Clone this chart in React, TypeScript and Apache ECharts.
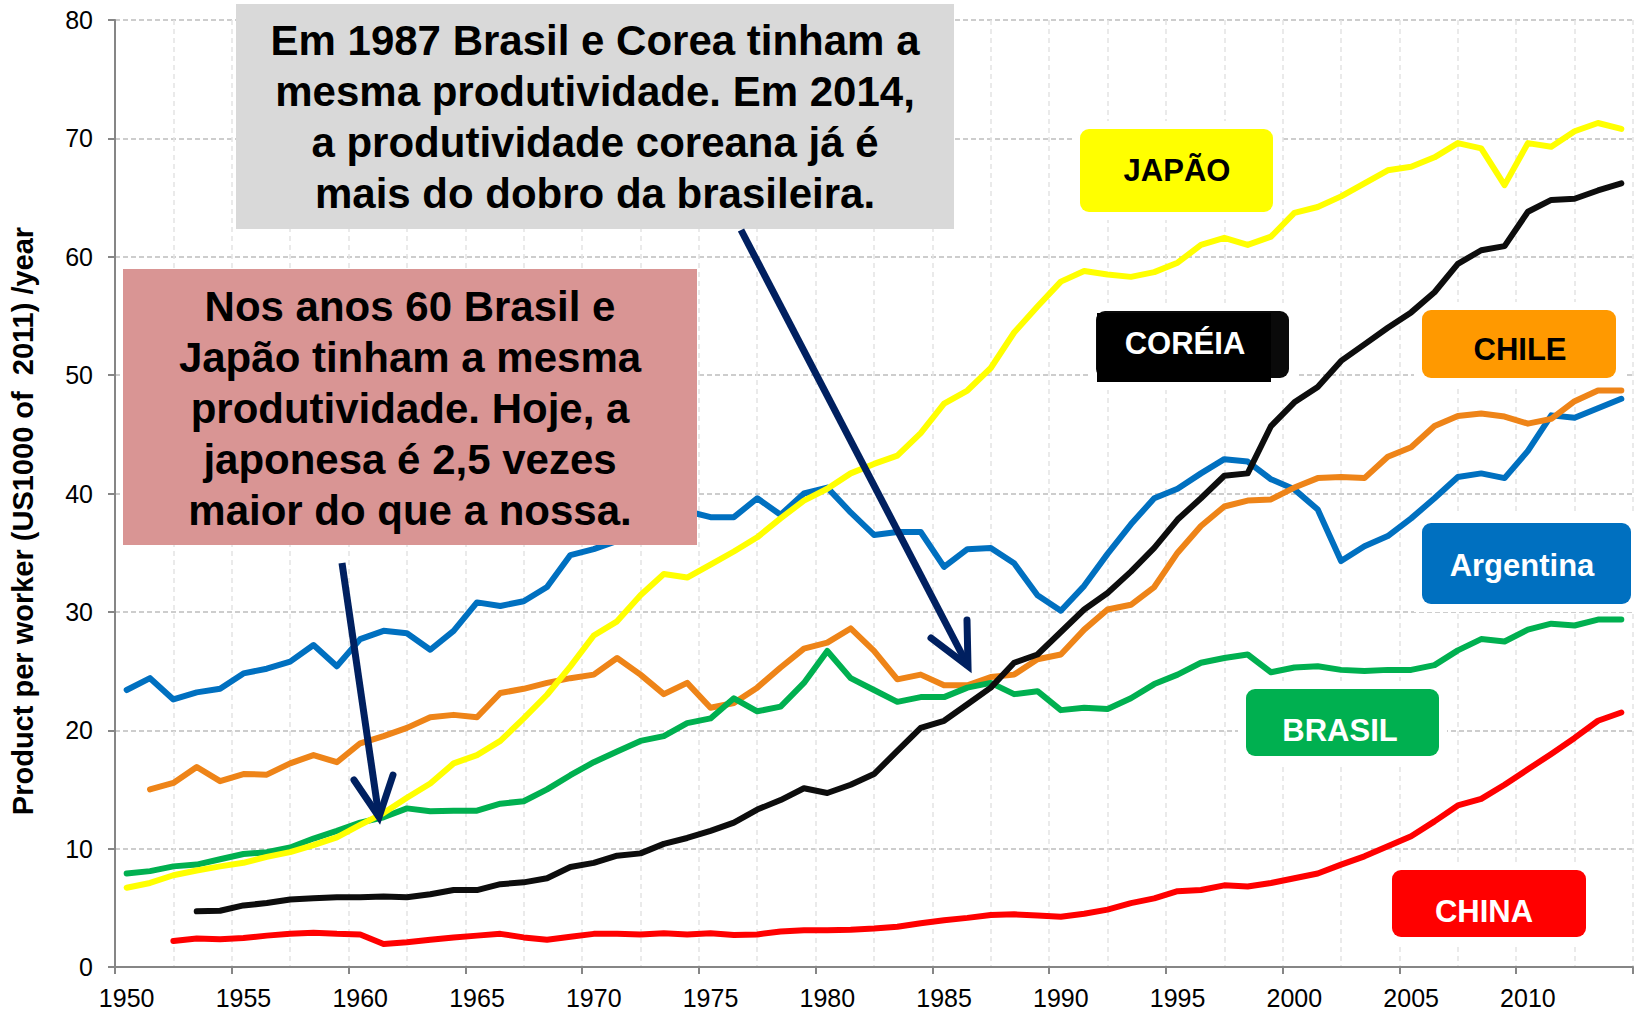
import React, { useEffect, useRef } from "react";
import * as echarts from "echarts";

const years = [
  "1950","1951","1952","1953","1954","1955","1956","1957","1958","1959",
  "1960","1961","1962","1963","1964","1965","1966","1967","1968","1969",
  "1970","1971","1972","1973","1974","1975","1976","1977","1978","1979",
  "1980","1981","1982","1983","1984","1985","1986","1987","1988","1989",
  "1990","1991","1992","1993","1994","1995","1996","1997","1998","1999",
  "2000","2001","2002","2003","2004","2005","2006","2007","2008","2009",
  "2010","2011","2012","2013","2014",
];

const argentina = [
  23.4, 24.4, 22.6, 23.2, 23.5, 24.8, 25.2, 25.8, 27.2, 25.4,
  27.7, 28.4, 28.2, 26.8, 28.4, 30.8, 30.5, 30.9, 32.1, 34.8,
  35.3, 36.0, 37.0, 38.7, 38.5, 38.0, 38.0, 39.6, 38.2, 40.0,
  40.5, 38.4, 36.5, 36.75, 36.75, 33.8, 35.3, 35.4, 34.1, 31.4,
  30.1, 32.2, 34.9, 37.4, 39.6, 40.4, 41.7, 42.9, 42.7, 41.2,
  40.35, 38.65, 34.3, 35.55, 36.4, 37.9, 39.6, 41.4, 41.7, 41.3,
  43.6, 46.6, 46.4, 47.2, 48.0,
];

const chile = [
  null, 15.0, 15.55, 16.9, 15.7, 16.3, 16.25, 17.2, 17.9, 17.3,
  18.9, 19.5, 20.2, 21.1, 21.3, 21.1, 23.15, 23.5, 24.0, 24.4,
  24.7, 26.1, 24.7, 23.05, 24.0, 21.9, 22.3, 23.6, 25.3, 26.9,
  27.4, 28.6, 26.7, 24.3, 24.7, 23.8, 23.8, 24.5, 24.7, 26.0,
  26.4, 28.5, 30.2, 30.6, 32.1, 35.0, 37.25, 38.9, 39.4, 39.5,
  40.5, 41.3, 41.4, 41.3, 43.1, 43.9, 45.7, 46.55, 46.75, 46.5,
  45.9, 46.3, 47.8, 48.7, 48.7,
];

const brasil = [
  7.9, 8.1, 8.5, 8.65, 9.1, 9.55, 9.7, 10.1, 10.85, 11.5,
  12.2, 12.65, 13.4, 13.15, 13.2, 13.2, 13.8, 14.0, 15.0, 16.2,
  17.3, 18.2, 19.1, 19.5, 20.6, 21.0, 22.7, 21.6, 22.0, 24.0,
  26.7, 24.4, 23.4, 22.4, 22.8, 22.8, 23.6, 24.0, 23.05, 23.3,
  21.7, 21.9, 21.8, 22.7, 23.9, 24.7, 25.7, 26.1, 26.4, 24.9,
  25.3, 25.4, 25.1, 25.0, 25.1, 25.1, 25.5, 26.75, 27.7, 27.5,
  28.5, 29.0, 28.85, 29.35, 29.35,
];

const china = [
  null, null, 2.2, 2.4, 2.35, 2.45, 2.65, 2.8, 2.9, 2.8,
  2.75, 1.95, 2.1, 2.3, 2.5, 2.65, 2.8, 2.5, 2.3, 2.55,
  2.8, 2.8, 2.75, 2.85, 2.75, 2.85, 2.7, 2.75, 3.0, 3.1,
  3.1, 3.15, 3.25, 3.4, 3.7, 3.95, 4.15, 4.4, 4.45, 4.35,
  4.25, 4.5, 4.85, 5.4, 5.8, 6.4, 6.5, 6.9, 6.8, 7.1,
  7.5, 7.9, 8.65, 9.35, 10.2, 11.05, 12.3, 13.65, 14.2, 15.4,
  16.7, 18.0, 19.35, 20.8, 21.5,
];

const japao = [
  6.7, 7.1, 7.75, 8.15, 8.5, 8.8, 9.3, 9.7, 10.3, 10.95,
  12.0, 13.0, 14.3, 15.5, 17.2, 17.9, 19.1, 21.0, 23.0, 25.4,
  28.0, 29.2, 31.4, 33.2, 32.9, 34.0, 35.1, 36.3, 37.9, 39.4,
  40.4, 41.7, 42.5, 43.2, 45.1, 47.6, 48.7, 50.6, 53.6, 55.8,
  57.9, 58.8, 58.5, 58.3, 58.7, 59.5, 61.0, 61.6, 61.0, 61.7,
  63.7, 64.2, 65.1, 66.2, 67.3, 67.6, 68.4, 69.6, 69.15, 66.05,
  69.6, 69.3, 70.6, 71.3, 70.8,
];

const coreia = [
  null, null, null, 4.7, 4.75, 5.2, 5.4, 5.7, 5.8, 5.9,
  5.9, 5.95, 5.9, 6.15, 6.5, 6.5, 7.0, 7.15, 7.5, 8.45,
  8.8, 9.4, 9.6, 10.4, 10.9, 11.5, 12.2, 13.3, 14.1, 15.1,
  14.7, 15.4, 16.3, 18.25, 20.2, 20.8, 22.2, 23.6, 25.7, 26.4,
  28.3, 30.2, 31.6, 33.4, 35.4, 37.8, 39.6, 41.5, 41.7, 45.7,
  47.7, 49.0, 51.2, 52.6, 54.0, 55.3, 57.0, 59.4, 60.55, 60.9,
  63.8, 64.8, 64.9, 65.6, 66.2,
];

const yTitle = "Product per worker (US1000 of  2011) /year";
const greyNote = "Em 1987 Brasil e Corea tinham a\nmesma produtividade. Em 2014,\na produtividade coreana já é\nmais do dobro da brasileira.";
const pinkNote = "Nos anos 60 Brasil e\nJapão tinham a mesma\nprodutividade. Hoje, a\njaponesa é 2,5 vezes\nmaior do que a nossa.";

const FONT = '"Liberation Sans", Arial, Helvetica, sans-serif';
const NAVY = "#002060";

function labelBox(x: number, y: number, w: number, h: number, fill: string, text: string, tx: number, ty: number, color: string) {
  return [
    { type: "rect", z: 1, shape: { x: x - 8, y: y - 8, width: w + 16, height: h + 16 }, style: { fill: "#ffffff" } },
    { type: "rect", z: 101, shape: { x, y, width: w, height: h, r: 9 }, style: { fill } },
    {
      type: "text", z: 102, x: tx, y: ty,
      style: { text, font: `bold 31px ${FONT}`, fill: color, textAlign: "center", textVerticalAlign: "middle" },
    },
  ];
}

function arrow(sx: number, sy: number, tx: number, ty: number, lx: number, ly: number, rx: number, ry: number) {
  return [
    { type: "line", z: 110, shape: { x1: sx, y1: sy, x2: tx, y2: ty }, style: { stroke: NAVY, lineWidth: 7, lineCap: "butt" } },
    {
      type: "polyline", z: 110,
      shape: { points: [[lx, ly], [tx, ty], [rx, ry]] },
      style: { stroke: NAVY, lineWidth: 7, lineCap: "round", lineJoin: "miter", fill: null },
    },
  ];
}

export default function App() {
  const ref = useRef<HTMLDivElement>(null);

  useEffect(() => {
    if (!ref.current) return;
    const chart = echarts.init(ref.current, null, { renderer: "svg" });

    const lineSeries = (name: string, data: (number | null)[], color: string) => ({
      name,
      type: "line",
      data,
      showSymbol: false,
      symbol: "none",
      connectNulls: false,
      lineStyle: { color, width: 6, cap: "round", join: "round" },
      itemStyle: { color },
      z: 3,
    });

    const option: any = {
      animation: false,
      backgroundColor: "#ffffff",
      textStyle: { fontFamily: FONT },
      grid: { left: 115, right: 2, top: 20, bottom: 45, containLabel: false },
      xAxis: [
        {
          type: "category",
          data: years,
          boundaryGap: true,
          axisLine: { show: true, lineStyle: { color: "#868686", width: 2 } },
          axisTick: {
            show: true,
            length: 7,
            alignWithLabel: false,
            interval: (idx: number) => idx % 5 === 0,
            lineStyle: { color: "#868686", width: 2 },
          },
          axisLabel: {
            interval: (idx: number) => idx % 5 === 0,
            color: "#000000",
            fontSize: 25,
            fontFamily: FONT,
            margin: 18,
          },
          splitLine: { show: false },
        },
        {
          type: "value",
          min: 0,
          max: 65,
          interval: 2.5,
          position: "bottom",
          axisLine: { show: false },
          axisTick: { show: false },
          axisLabel: { show: false },
          splitLine: { show: true, lineStyle: { color: "#e4e4e4", width: 1.5, type: [5, 4] } },
        },
      ],
      yAxis: {
        type: "value",
        min: 0,
        max: 80,
        interval: 10,
        axisLine: { show: true, lineStyle: { color: "#868686", width: 2 } },
        axisTick: { show: true, length: 7, lineStyle: { color: "#868686", width: 2 } },
        axisLabel: { color: "#000000", fontSize: 25, fontFamily: FONT, margin: 22 },
        splitLine: { show: true, lineStyle: { color: "#bdbdbd", width: 1.5, type: [5, 3] } },
      },
      series: [
        lineSeries("Argentina", argentina, "#0070c0"),
        lineSeries("Chile", chile, "#ee8418"),
        lineSeries("Brasil", brasil, "#00b050"),
        lineSeries("China", china, "#ff0000"),
        lineSeries("Japão", japao, "#ffff00"),
        lineSeries("Coréia", coreia, "#0d0d0d"),
      ],
      graphic: [
        {
          type: "text", z: 120, x: 23, y: 521, rotation: Math.PI / 2,
          style: { text: yTitle, font: `bold 29px ${FONT}`, fill: "#000000", textAlign: "center", textVerticalAlign: "middle" },
        },
        { type: "rect", z: 100, shape: { x: 236, y: 4, width: 718, height: 225 }, style: { fill: "#d9d9d9" } },
        {
          type: "text", z: 101, x: 595, y: 117,
          style: { text: greyNote, font: `bold 42px ${FONT}`, lineHeight: 51, fill: "#000000", textAlign: "center", textVerticalAlign: "middle" },
        },
        { type: "rect", z: 100, shape: { x: 123, y: 269, width: 574, height: 276 }, style: { fill: "#d99594" } },
        {
          type: "text", z: 101, x: 410, y: 408,
          style: { text: pinkNote, font: `bold 42px ${FONT}`, lineHeight: 51, fill: "#000000", textAlign: "center", textVerticalAlign: "middle" },
        },
        ...labelBox(1080, 129, 193, 83, "#ffff00", "JAPÃO", 1177, 170, "#000000"),
        { type: "rect", z: 1, shape: { x: 1088, y: 303, width: 209, height: 87 }, style: { fill: "#ffffff" } },
        { type: "rect", z: 101, shape: { x: 1096, y: 311, width: 193, height: 67, r: 9 }, style: { fill: "#0a0a0a" } },
        { type: "rect", z: 101, shape: { x: 1097, y: 313, width: 174, height: 69 }, style: { fill: "#000000" } },
        {
          type: "text", z: 102, x: 1185, y: 343,
          style: { text: "CORÉIA", font: `bold 31px ${FONT}`, fill: "#ffffff", textAlign: "center", textVerticalAlign: "middle" },
        },
        ...labelBox(1422, 310, 194, 68, "#ff9900", "CHILE", 1520, 349, "#000000"),
        ...labelBox(1422, 523, 209, 81, "#0070c0", "Argentina", 1522, 565, "#ffffff"),
        ...labelBox(1246, 689, 193, 67, "#00b050", "BRASIL", 1340, 730, "#ffffff"),
        ...labelBox(1392, 870, 194, 67, "#ff0000", "CHINA", 1484, 911, "#ffffff"),
        ...arrow(342, 563, 379, 817, 354, 780, 393, 775),
        ...arrow(741, 230, 968, 666, 931, 638, 967, 620),
      ],
    };

    chart.setOption(option);
    return () => chart.dispose();
  }, []);

  return (
    <div
      ref={ref}
      style={{ position: "absolute", left: 0, top: 0, width: 1635, height: 1012, background: "#ffffff" }}
    />
  );
}
